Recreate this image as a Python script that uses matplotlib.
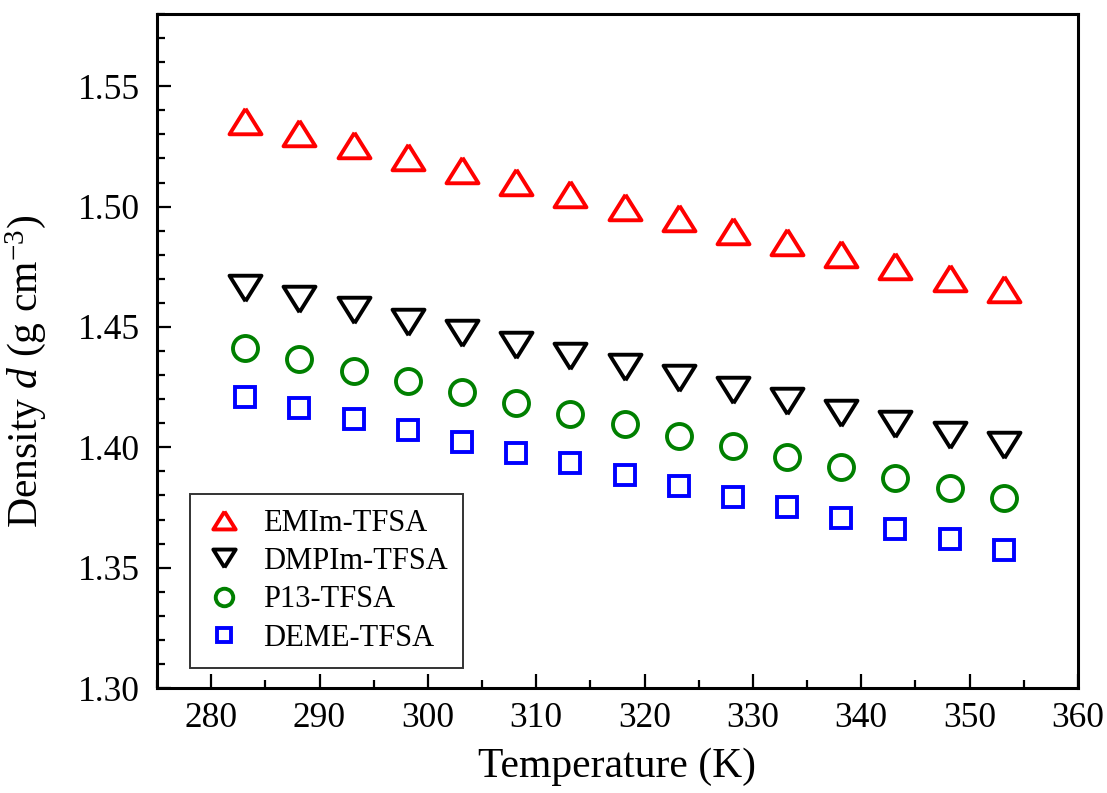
import matplotlib
matplotlib.use('Agg')
import matplotlib.pyplot as plt
from matplotlib.ticker import MultipleLocator, FormatStrFormatter

plt.rcParams['font.family'] = ['Liberation Serif', 'DejaVu Serif']
plt.rcParams['mathtext.fontset'] = 'custom'
plt.rcParams['mathtext.rm'] = 'Liberation Serif'
plt.rcParams['mathtext.it'] = 'Liberation Serif:italic'

temperature = [283.15, 288.15, 293.15, 298.15, 303.15, 308.15, 313.15, 318.15,
               323.15, 328.15, 333.15, 338.15, 343.15, 348.15, 353.15]

emim_tfsa = [1.5355, 1.5304, 1.5254, 1.5204, 1.5151, 1.5101, 1.5052, 1.5000,
             1.4951, 1.4900, 1.4851, 1.4803, 1.4754, 1.4704, 1.4658]
dmpim_tfsa = [1.4662, 1.4617, 1.4570, 1.4521, 1.4474, 1.4427, 1.4381, 1.4333,
              1.4286, 1.4240, 1.4192, 1.4144, 1.4098, 1.4053, 1.4008]
p13_tfsa = [1.4411, 1.4365, 1.4319, 1.4275, 1.4228, 1.4182, 1.4138, 1.4095,
            1.4048, 1.4005, 1.3961, 1.3919, 1.3873, 1.3832, 1.3788]
deme_tfsa = [1.4207, 1.4163, 1.4116, 1.4070, 1.4023, 1.3977, 1.3933, 1.3887,
             1.3840, 1.3795, 1.3750, 1.3706, 1.3662, 1.3620, 1.3574]

# slightly flattened triangles
tri_up = [(0, 0.8), (-1, -0.8), (1, -0.8), (0, 0.8)]
tri_down = [(0, -0.8), (-1, 0.8), (1, 0.8), (0, -0.8)]

fig = plt.figure(figsize=(11.07, 7.93), dpi=100)
ax = fig.add_axes([0.1418, 0.1324, 0.832, 0.8499])

mew = 2.8
ax.plot(temperature, emim_tfsa, linestyle='none', marker=tri_up, markersize=23,
        markerfacecolor='none', markeredgecolor='#ff0000', markeredgewidth=mew,
        label='EMIm-TFSA')
ax.plot(temperature, dmpim_tfsa, linestyle='none', marker=tri_down, markersize=23,
        markerfacecolor='none', markeredgecolor='black', markeredgewidth=mew,
        label='DMPIm-TFSA')
ax.plot(temperature, p13_tfsa, linestyle='none', marker='o', markersize=18,
        markerfacecolor='none', markeredgecolor='#008000', markeredgewidth=mew,
        label='P13-TFSA')
ax.plot(temperature, deme_tfsa, linestyle='none', marker='s', markersize=15,
        markerfacecolor='none', markeredgecolor='#0000ff', markeredgewidth=mew,
        label='DEME-TFSA')

ax.set_xlim(275, 360)
ax.set_ylim(1.30, 1.58)
ax.xaxis.set_major_locator(MultipleLocator(10))
ax.xaxis.set_minor_locator(MultipleLocator(5))
ax.yaxis.set_major_locator(MultipleLocator(0.05))
ax.yaxis.set_minor_locator(MultipleLocator(0.01))
ax.yaxis.set_major_formatter(FormatStrFormatter('%.2f'))

ax.tick_params(which='both', direction='in', width=1.6, labelsize=25.5,
               top=False, right=False)
ax.tick_params(which='major', length=10)
ax.tick_params(which='minor', length=5.5)
ax.tick_params(axis='x', pad=10)
ax.tick_params(axis='y', pad=12)
for sp in ax.spines.values():
    sp.set_linewidth(2.2)

ax.set_xlabel('Temperature (K)', fontsize=30, labelpad=9)
ax.set_ylabel('Density $d$ (g cm$^{-3}$)', fontsize=30)
ax.yaxis.set_label_coords(-0.118, 0.47)

leg = ax.legend(loc='lower left', bbox_to_anchor=(0.036, 0.03), fontsize=22,
                markerscale=0.7, frameon=True, fancybox=False, edgecolor='black',
                handlelength=1.2, handletextpad=0.7, labelspacing=0.3,
                borderpad=0.5, borderaxespad=0)
leg.get_frame().set_linewidth(1.4)

fig.savefig('out.png', dpi=100)
